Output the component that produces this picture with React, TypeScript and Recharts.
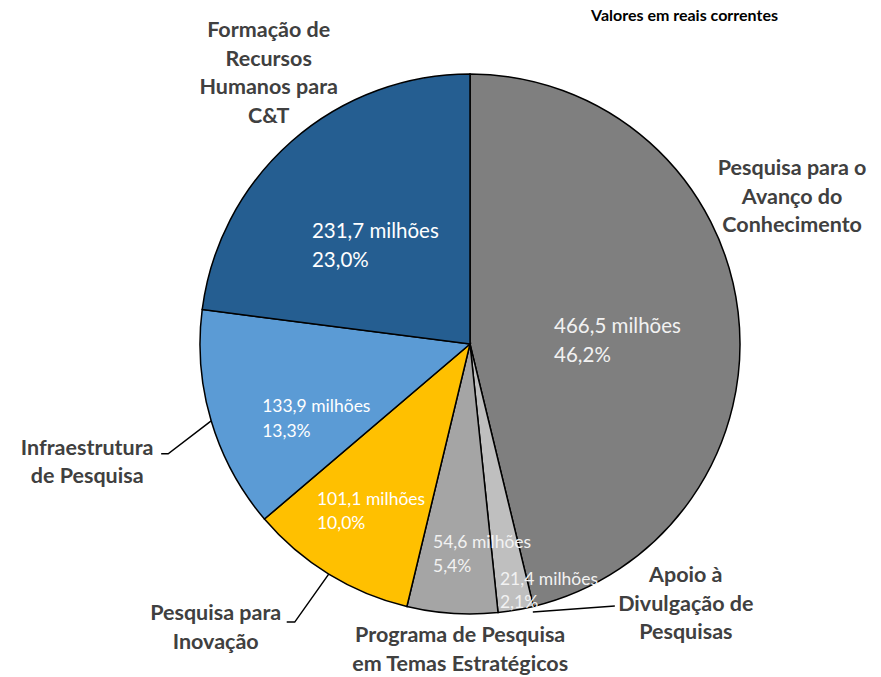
import React from 'react';
import { PieChart, Pie, Cell } from 'recharts';

// data, clockwise from 12 o'clock
const categories = [
  'Pesquisa para o Avanço do Conhecimento',
  'Apoio à Divulgação de Pesquisas',
  'Programa de Pesquisa em Temas Estratégicos',
  'Pesquisa para Inovação',
  'Infraestrutura de Pesquisa',
  'Formação de Recursos Humanos para C&T',
];
const categoryLines = [
  ['Pesquisa para o', 'Avanço do', 'Conhecimento'],
  ['Apoio à', 'Divulgação de', 'Pesquisas'],
  ['Programa de Pesquisa', 'em Temas Estratégicos'],
  ['Pesquisa para', 'Inovação'],
  ['Infraestrutura', 'de Pesquisa'],
  ['Formação de', 'Recursos', 'Humanos para', 'C&T'],
];
const values = [466.5, 21.4, 54.6, 101.1, 133.9, 231.7];

const subtitle = 'Valores em reais correntes';

// styles
const colors = ['#7F7F7F', '#BFBFBF', '#A5A5A5', '#FFC000', '#5B9BD5', '#255E91'];
const insideColors = ['#F2F2F2', '#F2F2F2', '#F2F2F2', '#FFFFFF', '#FFFFFF', '#FFFFFF'];
// inside label: radius fraction, angle tweak, font size, line gap
const insideLayout = [
  { rf: 0.314, da: 0.6, fs: 20.5, gap: 29 },
  { rf: 0.9, da: -2.7, fs: 17.5, gap: 23 },
  { rf: 0.768, da: -6.5, fs: 17.5, gap: 24 },
  { rf: 0.823, da: -12.0, fs: 17.5, gap: 24 },
  { rf: 0.81, da: 1.6, fs: 17.5, gap: 25 },
  { rf: 0.705, da: 14.8, fs: 20.5, gap: 29 },
];
// outside label offset from slice edge + leader line points
const outsideLayout = [
  { dx: 54, dy: -137, leader: null },
  { dx: 170, dy: -28, leader: [[17, 2], [99, -4]] },
  { dx: 8, dy: 29, leader: null },
  { dx: -113, dy: 46, leader: [[0, 0], [-34, 48], [-42, 48]] },
  { dx: -124, dy: 34, leader: [[0, 0], [-43, 33], [-50, 33]] },
  { dx: -23, dy: -104, leader: null },
];

const RAD = Math.PI / 180;
const polar = (cx: number, cy: number, r: number, angle: number) => ({
  x: cx + r * Math.cos(-angle * RAD),
  y: cy + r * Math.sin(-angle * RAD),
});

const fmt = (v: number) => v.toFixed(1).replace('.', ',');

const chartData = categories.map((name, i) => ({ name, value: values[i] }));

const renderLabel = (props: any) => {
  const { cx, cy, midAngle, outerRadius, index, value, percent } = props;
  const ins = insideLayout[index];
  const p = polar(cx, cy, outerRadius * ins.rf, midAngle + ins.da);
  const out = outsideLayout[index];
  const e = polar(cx, cy, outerRadius, midAngle);
  const lx = e.x + out.dx;
  const ly = e.y + out.dy;
  return (
    <g key={`lbl-${index}`}>
      <text
        x={p.x}
        y={p.y}
        fill={insideColors[index]}
        fontSize={ins.fs}
        fontFamily="Lato, sans-serif"
        textAnchor="start"
      >
        <tspan x={p.x} y={p.y}>{fmt(value)} milhões</tspan>
        <tspan x={p.x} y={p.y + ins.gap}>{fmt(percent * 100)}%</tspan>
      </text>
      <text
        fill="#404040"
        fontSize={21.5}
        fontWeight="bold"
        fontFamily="Lato, sans-serif"
        textAnchor="middle"
      >
        {categoryLines[index].map((line, j) => (
          <tspan key={j} x={lx} y={ly + j * 28.5}>{line}</tspan>
        ))}
      </text>
      {out.leader && (
        <polyline
          points={out.leader.map(([dx, dy]) => `${e.x + dx},${e.y + dy}`).join(' ')}
          fill="none"
          stroke="#000"
          strokeWidth={1.5}
        />
      )}
    </g>
  );
};

export default function App() {
  return (
    <div style={{ position: 'absolute', left: 0, top: 0, width: 881, height: 677, background: '#fff' }}>
      <div
        style={{
          position: 'absolute',
          left: 591,
          top: 5,
          fontFamily: 'Lato, sans-serif',
          fontWeight: 'bold',
          fontSize: 16,
          color: '#000',
          whiteSpace: 'nowrap',
        }}
      >
        {subtitle}
      </div>
      <PieChart width={881} height={677} margin={{ top: 0, right: 0, bottom: 0, left: 0 }}>
        <Pie
          data={chartData}
          dataKey="value"
          nameKey="name"
          cx={470}
          cy={344}
          outerRadius={270}
          startAngle={90}
          endAngle={-270}
          stroke="#000"
          strokeWidth={1.5}
          label={renderLabel}
          labelLine={false}
          isAnimationActive={false}
        >
          {chartData.map((d, i) => (
            <Cell key={d.name} fill={colors[i]} />
          ))}
        </Pie>
      </PieChart>
    </div>
  );
}
